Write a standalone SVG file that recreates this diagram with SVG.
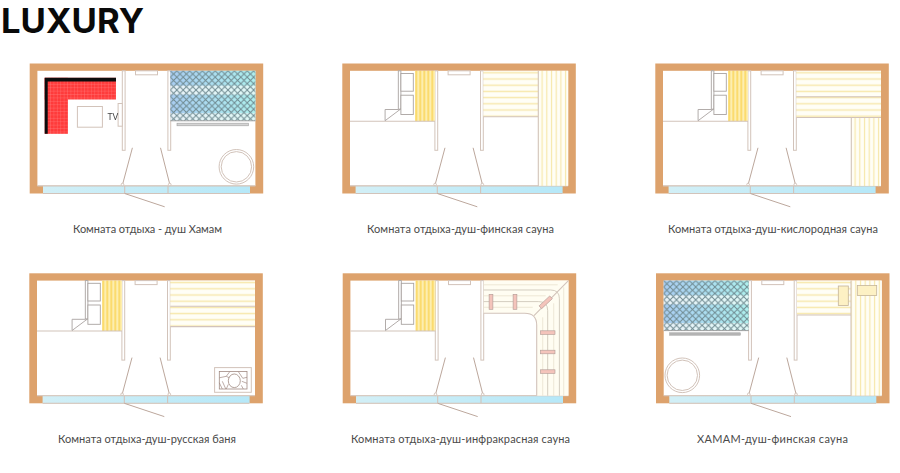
<svg xmlns="http://www.w3.org/2000/svg" width="900" height="473" viewBox="0 0 900 473">
<style>
text{font-family:"Lato","Liberation Sans",sans-serif}
.title{font-family:"Inter","Liberation Sans",sans-serif;font-size:33.5px;font-weight:700;fill:#0a0a0a}
.cap{font-size:11px;fill:#4a4a4a}
.room{filter:url(#soft)}
.l{fill:none;stroke:#d2c3ba;stroke-width:1.1}
.w{fill:#fff;stroke:#d2c3ba;stroke-width:1}
.g{fill:#fff;stroke:#a9a3a0;stroke-width:.9}
.cream{fill:#fffdf2}
.fine{fill:none;stroke:#e6e0cc;stroke-width:.7}
.rail{fill:none;stroke:#cfc7ba;stroke-width:.9}
</style>
<defs>
<filter id="soft" x="-2%" y="-2%" width="104%" height="104%"><feGaussianBlur stdDeviation="0.35"/></filter>
<linearGradient id="glassGrad" x1="0" x2="1" y1="0" y2="0"><stop offset="0" stop-color="#a9cdf2"/><stop offset="1" stop-color="#aef0ee"/></linearGradient>
<linearGradient id="glassLight" x1="0" x2="1" y1="0" y2="0"><stop offset="0" stop-color="#e8f2f8"/><stop offset="1" stop-color="#dff9f7"/></linearGradient>
<linearGradient id="win" x1="0" x2="1" y1="0" y2="0"><stop offset="0" stop-color="#d2eff6"/><stop offset="1" stop-color="#b6e8f8"/></linearGradient>
<pattern id="lattice" width="6.4" height="6.4" patternUnits="userSpaceOnUse"><path d="M0 0L6.4 6.4M6.4 0L0 6.4" stroke="#6f8a90" stroke-width="1" fill="none"/></pattern>
<pattern id="redGrid" width="3.4" height="3.4" patternUnits="userSpaceOnUse"><rect width="3.4" height="3.4" fill="#ff3b3b"/><path d="M0 0H3.4M0 0V3.4" stroke="#ff8f8f" stroke-width=".5"/></pattern>
<pattern id="yelV" width="4" height="10" patternUnits="userSpaceOnUse"><rect width="4" height="10" fill="#fdeeb0"/><rect x="1.2" width="1.6" height="10" fill="#fbd75e"/></pattern>
<pattern id="paleH" width="10" height="6.2" patternUnits="userSpaceOnUse"><rect width="10" height="6.2" fill="#fffef6"/><rect y="2.4" width="10" height="1.4" fill="#f7e8ac"/></pattern>
<pattern id="paleV" width="4.7" height="10" patternUnits="userSpaceOnUse"><rect width="4.7" height="10" fill="#fffef6"/><rect x="1.8" width="1.2" height="10" fill="#f7e8ac"/></pattern>
<g id="base">
<rect width="233.5" height="130" fill="#dda26c"/>
<rect x="7.7" y="7.3" width="218" height="115" fill="#fff"/>
<rect x="13.3" y="122.4" width="207" height="7.6" fill="url(#win)"/>
<path class="l" d="M7.7 122.4H225.7M13.3 130H220M95 122.4V130M138.3 122.4V130"/>
</g>
<g id="core">
<rect class="w" x="92.6" y="7.3" width="2.8" height="79.5"/>
<rect class="w" x="138.2" y="7.3" width="2.8" height="79.5"/>
<rect class="w" x="105.8" y="7.3" width="22" height="4"/>
<path d="M102.7 84.3L93 120.5M130.8 84.3L140 120.5M95 130L135 143.3" fill="none" stroke="#bca79c" stroke-width="1"/>
<circle class="w" cx="92.8" cy="121" r="1.3"/><circle class="w" cx="140" cy="121" r="1.3"/>
</g>
<g id="shower">
<rect x="72.7" y="7.3" width="20" height="50.4" fill="url(#yelV)"/>
<path class="l" d="M7.7 57.7H92.7"/>
<rect class="g" x="56" y="7.3" width="2.6" height="38.5"/>
<rect class="g" x="58.6" y="10" width="12.4" height="17.7"/>
<rect class="g" x="58.6" y="31.7" width="12.4" height="19.3"/>
<path class="g" d="M42.8 46H56.4L58.4 45.5L42.8 57.2Z"/>
</g>
<g id="glass">
<rect width="85" height="15" fill="url(#glassGrad)"/>
<rect y="15" width="85" height="8.7" fill="url(#glassLight)"/>
<rect y="23.7" width="85" height="19" fill="url(#glassGrad)"/>
<rect y="42.7" width="85" height="7.3" fill="url(#glassLight)"/>
<rect width="85" height="50" fill="url(#lattice)"/>
<path d="M0 50H85" stroke="#9a9a9a" stroke-width=".9"/>
</g>
<g id="tub"><circle r="17.3" class="w"/><circle r="15.2" class="w"/></g>
</defs>

<rect width="900" height="473" fill="#fff"/>
<text class="title" x="1" y="33.2" textLength="143" lengthAdjust="spacingAndGlyphs">LUXURY</text>

<g id="room-1" class="room" transform="translate(29.7 63.5)">
<use href="#base"/><use href="#core"/>
<rect x="15" y="14.3" width="71.3" height="21.7" fill="url(#redGrid)"/>
<rect x="15" y="14.3" width="23.3" height="56" fill="url(#redGrid)"/>
<path d="M15 14.3H86.3V18H18V70.3H15Z" fill="#0a0a0a"/>
<rect class="w" x="47.7" y="43" width="25" height="20.7"/>
<rect class="w" x="88.4" y="40" width="4.2" height="22.7"/>
<text x="77.7" y="56.6" font-size="8.5" fill="#444">TV</text>
<use href="#glass" x="140.7" y="7.3"/>
<rect x="147.3" y="59.7" width="71.4" height="2.6" fill="#d4d4d4" stroke="#9f9f9f" stroke-width=".6"/>
<use href="#tub" x="206.7" y="103.3"/>
</g>

<g id="room-2" class="room" transform="translate(342.3 63.5)">
<use href="#base"/><use href="#core"/><use href="#shower"/>
<rect x="141" y="7.3" width="55" height="46" fill="url(#paleH)"/>
<rect x="196" y="7.3" width="30" height="115" fill="url(#paleV)"/>
<path class="l" d="M141 53.3H196M196 7.3V122.4" stroke-width="1.5"/>
</g>

<g id="room-3" class="room" transform="translate(655.3 63.5)">
<use href="#base"/><use href="#core"/><use href="#shower"/>
<rect x="141" y="7.3" width="84.7" height="46.7" fill="url(#paleH)"/>
<rect x="196" y="54" width="29.7" height="68.4" fill="url(#paleV)"/>
<path class="l" d="M141 33.3H225.7M141 54H225.7M196 54V122.4"/>
</g>

<g id="room-4" class="room" transform="translate(29.3 273.3)">
<use href="#base"/><use href="#core"/><use href="#shower"/>
<rect x="141" y="7.3" width="84.7" height="46" fill="url(#paleH)"/>
<path class="l" d="M141 33H225.7M141 53.3H225.7"/>
<rect class="w" x="185.3" y="94.3" width="36.7" height="24.7"/>
<rect x="190" y="98.3" width="27.7" height="17.4" fill="#fff" stroke="#a08a82" stroke-width=".8"/>
<ellipse cx="205" cy="107.5" rx="6" ry="6.8" fill="#fff" stroke="#a08a82" stroke-width=".8"/>
<path d="M190 104.5L197 103L200.5 98.3M197 103L200 104.5M190 109.5L193 115.7M193 108L196.5 115.7M199 111L197 115.7M209 98.3L213.5 105L217.7 104M212.5 108L217.7 110M212 112L214 115.7" fill="none" stroke="#a08a82" stroke-width=".7"/>
</g>

<g id="room-5" class="room" transform="translate(342.7 273.3)">
<use href="#base"/><use href="#core"/><use href="#shower"/>
<path class="cream" d="M141 7.3H225.7V122.4H194V52Q194 40 182 40H141Z"/>
<path class="fine" d="M141 34H190M200 44V122.4M141 22.5H203M211 30V122.4M141 11.5H215M221 14V122.4"/>
<path class="rail" d="M141 16.7H208Q216.7 16.7 216.7 25.4V122.4M141 28.3H196Q205 28.3 205 37.3V122.4"/>
<path class="l" d="M141 40H182Q194 40 194 52V122.4M191.3 42.3L225.7 7.3"/>
<g fill="#f4c4bb" stroke="#b09a94" stroke-width=".6">
<rect x="146.4" y="21" width="3.8" height="15"/>
<rect x="170.4" y="21" width="3.8" height="15"/>
<rect x="197.7" y="57.5" width="14.6" height="3.6"/>
<rect x="197.7" y="76.9" width="14.6" height="3.6"/>
<rect x="197.7" y="96.5" width="14.6" height="3.6"/>
<rect x="-7.3" y="-1.9" width="14.6" height="3.8" transform="translate(203 29) rotate(-43)"/>
</g>
</g>

<g id="room-6" class="room" transform="translate(656 273.3)">
<use href="#base"/><use href="#core"/>
<use href="#glass" x="7.7" y="7.3"/>
<rect x="13.7" y="59.5" width="70.6" height="2.4" fill="#b5b5b5" stroke="#9a9a9a" stroke-width=".5"/>
<use href="#tub" x="26.3" y="102"/>
<rect x="141" y="7.3" width="54" height="34.4" fill="url(#paleH)"/>
<rect x="195" y="7.3" width="30.7" height="115" fill="url(#paleV)"/>
<path class="l" d="M141 41.7H195M195 7.3V122.4"/>
<rect x="182.3" y="12.7" width="10" height="19.6" fill="#fdf1c4" stroke="#c4b49a" stroke-width=".8"/>
<rect x="201.3" y="12.3" width="19.4" height="10" fill="#fdf1c4" stroke="#c4b49a" stroke-width=".8"/>
</g>

<g id="captions">
<text class="cap" x="73" y="233" textLength="149" lengthAdjust="spacing">Комната отдыха - душ Хамам</text>
<text class="cap" x="367" y="233" textLength="187" lengthAdjust="spacing">Комната отдыха-душ-финская сауна</text>
<text class="cap" x="668" y="233" textLength="210" lengthAdjust="spacing">Комната отдыха-душ-кислородная сауна</text>
<text class="cap" x="58" y="443" textLength="178" lengthAdjust="spacing">Комната отдыха-душ-русская баня</text>
<text class="cap" x="351" y="443" textLength="219" lengthAdjust="spacing">Комната отдыха-душ-инфракрасная сауна</text>
<text class="cap" x="697" y="443" textLength="151" lengthAdjust="spacing">ХАМАМ-душ-финская сауна</text>
</g>
</svg>
